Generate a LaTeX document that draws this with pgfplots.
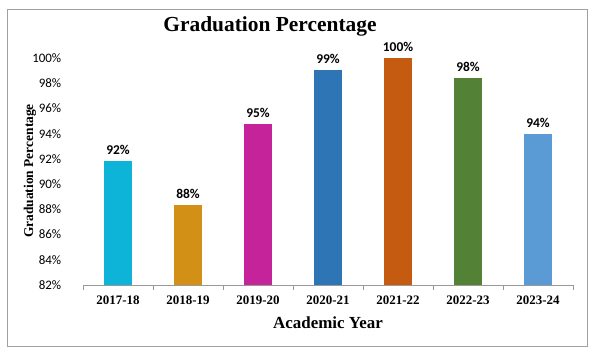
\documentclass[border=0pt]{standalone}
\usepackage{fontspec}
\setmainfont{Liberation Serif}
\newfontfamily\calfont{Carlito}
\usepackage{pgfplots}
\pgfplotsset{compat=1.18}
\definecolor{c1}{HTML}{0EB4D8}
\definecolor{c2}{HTML}{D39016}
\definecolor{c3}{HTML}{C4239A}
\definecolor{c4}{HTML}{2E75B6}
\definecolor{c5}{HTML}{C55A11}
\definecolor{c6}{HTML}{538135}
\definecolor{c7}{HTML}{5B9BD5}
\definecolor{frame}{HTML}{A0A0A0}
\begin{document}
\begin{tikzpicture}
\useasboundingbox (0,0) rectangle (595bp,-353bp);
\draw[frame, line width=0.9bp] (7bp,-9bp) rectangle (587bp,-346bp);
\node[font=\bfseries\fontsize{21.5}{24}\selectfont] at (270bp,-26bp) {Graduation Percentage};
\node[font=\bfseries\fontsize{17}{20}\selectfont] at (328bp,-323bp) {Academic Year};
\node[font=\bfseries\fontsize{13.5}{16}\selectfont, rotate=90] at (30bp,-171bp) {Graduation Percentage};
\begin{axis}[
  at={(83bp,-285bp)}, anchor=south west,
  scale only axis, width=490bp, height=227bp,
  xmin=-0.5, xmax=6.5, ymin=82, ymax=100,
  axis lines*=left,
  y axis line style={draw=none},
  x axis line style={draw=gray!80, line width=0.8bp},
  ytick={82,84,...,100},
  yticklabels={82\%,84\%,86\%,88\%,90\%,92\%,94\%,96\%,98\%,100\%},
  ytick style={draw=none},
  yticklabel style={font=\calfont\fontsize{13}{15}\selectfont, xshift=-14bp},
  xtick={0,...,6},
  xticklabels={2017-18,2018-19,2019-20,2020-21,2021-22,2022-23,2023-24},
  major x tick style={draw=none},
  minor xtick={-0.5,0.5,...,6.5},
  minor x tick style={draw=gray!80, line width=0.8bp},
  minor tick length=5bp,
  tick align=outside,
  xticklabel style={font=\bfseries\fontsize{13}{15}\selectfont, yshift=-3bp},
  every node near coord/.append style={font=\calfont\bfseries\fontsize{13.5}{15}\selectfont, yshift=3bp},
  clip=false,
]
\pgfplotsset{mybar/.style={ybar, bar width=28bp, bar shift=0pt, draw=none, fill=#1, point meta=explicit symbolic, nodes near coords}}
\addplot[mybar=c1] coordinates {(0,91.83) [92\%]};
\addplot[mybar=c2] coordinates {(1,88.33) [88\%]};
\addplot[mybar=c3] coordinates {(2,94.76) [95\%]};
\addplot[mybar=c4] coordinates {(3,99.05) [99\%]};
\addplot[mybar=c5] coordinates {(4,100) [100\%]};
\addplot[mybar=c6] coordinates {(5,98.41) [98\%]};
\addplot[mybar=c7] coordinates {(6,93.97) [94\%]};
\end{axis}
\end{tikzpicture}
\end{document}
